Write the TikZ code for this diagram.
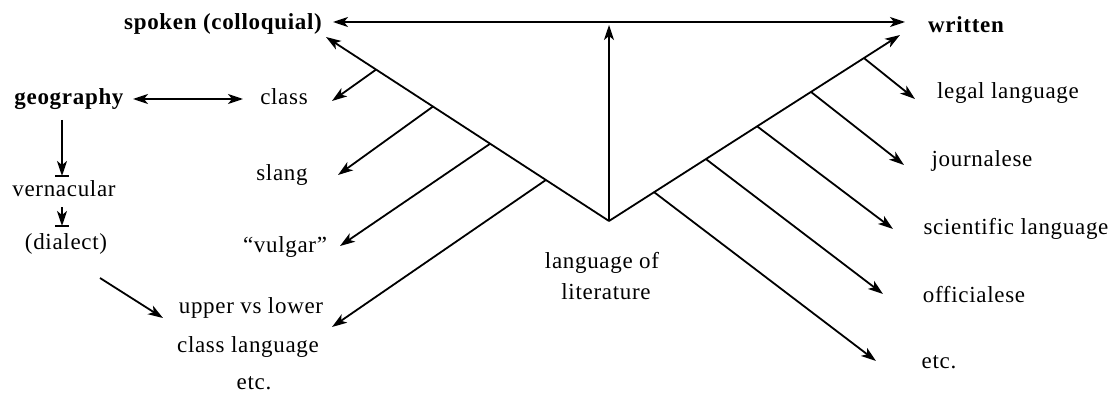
\documentclass[tikz,border=0pt]{standalone}
\usepackage{fontspec}
\setmainfont{Liberation Serif}[LetterSpace=3]
\usetikzlibrary{arrows.meta,calc}
\begin{document}
\begin{tikzpicture}[x=1pt,y=-1pt,
  lbl/.style={font=\fontsize{23}{27}\selectfont, inner sep=0pt},
  blbl/.style={inner sep=0pt, font=\fontsize{23}{27}\selectfont\bfseries},
  ln/.style={line width=1.8pt},
  arr/.style={line width=1.8pt, -{Stealth[length=15pt,width=10pt,inset=4pt]}},
  darr/.style={line width=1.6pt, {Stealth[length=15pt,width=10pt,inset=4pt]}-{Stealth[length=15pt,width=10pt,inset=4pt]}}]
\useasboundingbox (0,0) rectangle (1111,393);

% labels
\node[blbl] (spoken) at (223,24) {spoken (colloquial)};
\node[blbl] (written) at (966,25) {written};
\node[blbl] (geo) at (69,99) {geography};
\node[lbl] (class) at (284,97) {class};
\node[lbl] (slang) at (282,175) {slang};
\node[lbl] (vulgar) at (285,247) {``vulgar''};
\node[lbl] (vern) at (64,189) {vernacular};
\node[lbl] (dial) at (66,244) {(dialect)};
\node[lbl] (upper) at (251,308) {upper vs lower};
\node[lbl] (classlang) at (248,347) {class language};
\node[lbl] (etcL) at (254,383) {etc.};
\node[lbl] (langof) at (602,263) {language of};
\node[lbl] (lit) at (606,292) {literature};
\node[lbl] (legal) at (1008,93) {legal language};
\node[lbl] (journ) at (982,161) {journalese};
\node[lbl] (sci) at (1016,229) {scientific language};
\node[lbl] (offic) at (974,295) {officialese};
\node[lbl] (etcR) at (939,362) {etc.};

% main frame
\coordinate (V) at (609,221);
\coordinate (LT) at (326,37);
\coordinate (RT) at (900,35);
\coordinate (TL) at (333,22);
\coordinate (TR) at (905,22);
\coordinate (TV) at (609,25);
\draw[darr] (TL) -- (TR);
\draw[arr] (V) -- (TV);
\draw[arr] (V) -- (LT);
\draw[arr] (V) -- (RT);

% left branches
\coordinate (L1) at ($(V)!0.823!(LT)$);
\coordinate (L2) at ($(V)!0.622!(LT)$);
\coordinate (L3) at ($(V)!0.420!(LT)$);
\coordinate (L4) at ($(V)!0.223!(LT)$);
\coordinate (tClass) at (332,101);
\coordinate (tSlang) at (338,175);
\coordinate (tVulgar) at (340,246);
\coordinate (tUpper) at (332,327);
\draw[arr] (L1) -- (tClass);
\draw[arr] (L2) -- (tSlang);
\draw[arr] (L3) -- (tVulgar);
\draw[arr] (L4) -- (tUpper);

% right branches
\coordinate (R1) at ($(V)!0.876!(RT)$);
\coordinate (R2) at ($(V)!0.694!(RT)$);
\coordinate (R3) at ($(V)!0.509!(RT)$);
\coordinate (R4) at ($(V)!0.333!(RT)$);
\coordinate (R5) at ($(V)!0.155!(RT)$);
\coordinate (tLegal) at (915,99);
\coordinate (tJourn) at (904,165);
\coordinate (tSci) at (893,229);
\coordinate (tOffic) at (883,294);
\coordinate (tEtcR) at (876,361);
\draw[arr] (R1) -- (tLegal);
\draw[arr] (R2) -- (tJourn);
\draw[arr] (R3) -- (tSci);
\draw[arr] (R4) -- (tOffic);
\draw[arr] (R5) -- (tEtcR);

% left column
\coordinate (gE) at (133,99);
\coordinate (cW) at (243,99);
\draw[darr] (gE) -- (cW);
\coordinate (g1) at (62,120);
\coordinate (g2) at (62,176);
\draw[arr] (g1) -- (g2);
\draw[ln] ($(g2)+(-7,0)$) -- ($(g2)+(7,0)$);
\coordinate (v1) at (62,207);
\coordinate (v2) at (62,226);
\draw[arr] (v1) -- (v2);
\draw[ln] ($(v2)+(-7,0)$) -- ($(v2)+(7,0)$);
\coordinate (d1) at (100,278);
\coordinate (d2) at (163,318);
\draw[arr] (d1) -- (d2);
\end{tikzpicture}
\end{document}
